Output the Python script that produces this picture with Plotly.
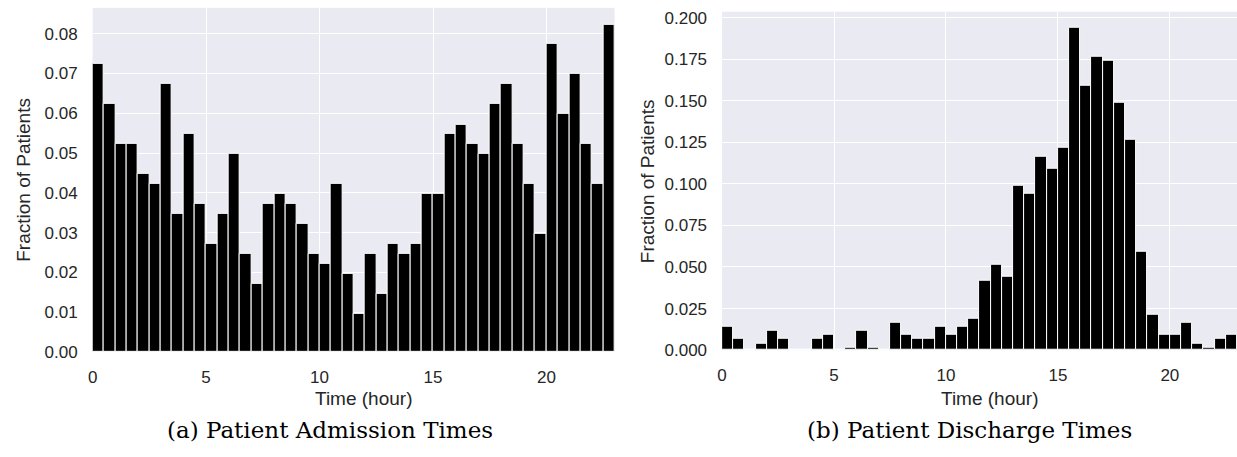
import numpy as np
import plotly.graph_objects as go

# ---- data ----
bin_width = 0.5
bin_left_edges = np.arange(0, 23, bin_width)  # 46 half-hour bins from 0 to 23

admission_fraction = [
    0.0724, 0.0624, 0.0523, 0.0523, 0.0448, 0.0423, 0.0674, 0.0348, 0.0548, 0.0372,
    0.0273, 0.0348, 0.0498, 0.0247, 0.0171, 0.0372, 0.0397, 0.0372, 0.0322, 0.0247,
    0.0222, 0.0422, 0.0196, 0.0096, 0.0247, 0.0147, 0.0272, 0.0247, 0.0272, 0.0397,
    0.0397, 0.0548, 0.0572, 0.0523, 0.0498, 0.0623, 0.0673, 0.0523, 0.0422, 0.0297,
    0.0774, 0.0598, 0.0698, 0.0523, 0.0422, 0.0823,
]

discharge_fraction = [
    0.0140, 0.0066, 0.0, 0.0039, 0.0115, 0.0066, 0.0, 0.0, 0.0066, 0.0090,
    0.0, 0.0014, 0.0115, 0.0014, 0.0, 0.0166, 0.0090, 0.0066, 0.0066, 0.0140,
    0.0090, 0.0140, 0.0191, 0.0417, 0.0516, 0.0440, 0.0989, 0.0938, 0.1164, 0.1090,
    0.1215, 0.1941, 0.1589, 0.1766, 0.1741, 0.1489, 0.1266, 0.0590, 0.0214, 0.0090,
    0.0090, 0.0166, 0.0039, 0.0014, 0.0066, 0.0090,
]

x_ticks = [0, 5, 10, 15, 20]
left_y_ticks = [0.00, 0.01, 0.02, 0.03, 0.04, 0.05, 0.06, 0.07, 0.08]
right_y_ticks = [0.000, 0.025, 0.050, 0.075, 0.100, 0.125, 0.150, 0.175, 0.200]

y_title = "Fraction of Patients"
x_title = "Time (hour)"
caption_a = "(a) Patient Admission Times"
caption_b = "(b) Patient Discharge Times"

# ---- figure ----
W, H = 1237, 457
centers = bin_left_edges + bin_width / 2

TXT = "#262626"
SANS = "Liberation Sans, Arial, sans-serif"
SERIF = "DejaVu Serif, serif"
BG = "#EAEAF2"
TICK_SIZE = 17
LABEL_SIZE = 19
CAPTION_SIZE = 23

fig = go.Figure()
fig.add_trace(go.Bar(
    x=centers, y=admission_fraction, width=bin_width,
    marker=dict(color="black", line=dict(color="white", width=1)),
    xaxis="x", yaxis="y", showlegend=False, hoverinfo="skip",
))
fig.add_trace(go.Bar(
    x=centers, y=discharge_fraction, width=bin_width,
    marker=dict(color="black", line=dict(color="white", width=1)),
    xaxis="x2", yaxis="y2", showlegend=False, hoverinfo="skip",
))

axis_common = dict(
    showgrid=True, gridcolor="white", gridwidth=1.2,
    zeroline=False, showline=False, ticks="",
    tickfont=dict(family=SANS, size=TICK_SIZE, color=TXT),
)

def px(xp):
    return xp / W

def py(yp):
    return (H - yp) / H

def label(text, x, y, size, family, color, angle=0):
    return dict(text=text, x=px(x), y=py(y), xref="paper", yref="paper",
                xanchor="center", yanchor="middle", showarrow=False,
                textangle=angle, font=dict(family=family, size=size, color=color))

fig.update_layout(
    width=W, height=H,
    margin=dict(l=0, r=0, t=0, b=0),
    paper_bgcolor="white",
    plot_bgcolor=BG,
    bargap=0,
    font=dict(family=SANS, color=TXT),
    xaxis=dict(
        domain=[px(88), px(612)], range=[0, 23], anchor="y",
        tickvals=x_ticks, ticktext=[str(v) for v in x_ticks],
        ticklabelstandoff=13, **axis_common,
    ),
    yaxis=dict(
        domain=[py(359.3), py(5)], range=[0, 0.0865], anchor="x",
        tickvals=left_y_ticks, ticktext=[f"{v:.2f}" for v in left_y_ticks],
        ticklabelstandoff=14, **axis_common,
    ),
    xaxis2=dict(
        domain=[px(720), 1.0], range=[0, 23], anchor="y2",
        tickvals=x_ticks, ticktext=[str(v) for v in x_ticks],
        ticklabelstandoff=13, **axis_common,
    ),
    yaxis2=dict(
        domain=[py(357.3), py(9)], range=[0, 0.2035], anchor="x2",
        tickvals=right_y_ticks, ticktext=[f"{v:.3f}" for v in right_y_ticks],
        ticklabelstandoff=14, **axis_common,
    ),
    annotations=[
        label(y_title, 19, 182, LABEL_SIZE, SANS, TXT, angle=-90),
        label(y_title, 645, 183, LABEL_SIZE, SANS, TXT, angle=-90),
        label(x_title, 359.5, 407, LABEL_SIZE, SANS, TXT),
        label(x_title, 988.5, 407, LABEL_SIZE, SANS, TXT),
        label(caption_a, 326.7, 440, CAPTION_SIZE, SERIF, "black"),
        label(caption_b, 968, 440, CAPTION_SIZE, SERIF, "black"),
    ],
)

fig.write_html(
    "out.html",
    config={"displayModeBar": False},
    post_script="document.body.style.margin='0';document.body.style.overflow='hidden';",
)
